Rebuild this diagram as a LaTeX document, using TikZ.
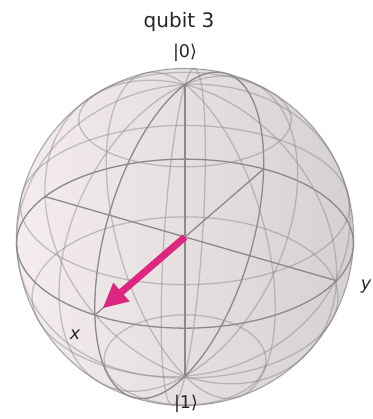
\documentclass[tikz,border=0pt]{standalone}
\usepackage{fontspec}
\setmainfont{DejaVu Sans}
\usetikzlibrary{arrows.meta}
\definecolor{wirec}{HTML}{808080}
\definecolor{framec}{HTML}{8A8A8A}
\definecolor{vecc}{HTML}{DC267F}
\definecolor{sphl}{HTML}{F5EDED}
\definecolor{sphr}{HTML}{D6D1D1}
\definecolor{txtc}{HTML}{262626}
\begin{document}
\begin{tikzpicture}[x=1pt,y=1pt,
  declare function={
    dep(\a,\b,\c)=0.75*\a+0.4330127*\b+0.5*\c;
    sc(\a,\b,\c)=168*11/(11-dep(\a,\b,\c));
    PX(\a,\b,\c)=185+sc(\a,\b,\c)*(-0.5*\a+0.8660254*\b);
    PY(\a,\b,\c)=182+sc(\a,\b,\c)*(-0.4330127*\a-0.25*\b+0.8660254*\c);
  },
  wire/.style={draw=wirec, draw opacity=0.42, line width=1.3pt},
  frame/.style={draw=framec, line width=1.3pt},
  rim/.style={draw=wirec, draw opacity=0.4, line width=1.5pt},
  lbl/.style={text=txtc, font=\fontsize{17.5}{20}\selectfont, inner sep=0pt},
  vec/.style={draw=vecc, line width=7pt, -{Triangle[length=25pt,width=23pt]}}
]
\useasboundingbox (0,0) rectangle (372,419);
\coordinate (O) at (185,182);
% sphere body
\fill[left color=sphl, right color=sphr] (O) circle (168.5);
% wireframe meridians
\foreach \u in {0,37.5,75,112.5,150,180,-142.5,-105,-67.5,-30}
  \draw[wire] plot[domain=0:180, samples=37, variable=\t, smooth]
    ({PX(-sin(\u)*sin(\t),cos(\u)*sin(\t),cos(\t))},{PY(-sin(\u)*sin(\t),cos(\u)*sin(\t),cos(\t))});
% wireframe latitudes
\foreach \v in {37.5,75,112.5,150}
  \draw[wire] plot[domain=-180:180, samples=73, variable=\t, smooth]
    ({PX(-sin(\t)*sin(\v),cos(\t)*sin(\v),cos(\v))},{PY(-sin(\t)*sin(\v),cos(\t)*sin(\v),cos(\v))});
% rim
\draw[rim] (O) circle (168.5);
% equator and xz great circle
\draw[frame] plot[domain=0:360, samples=73, variable=\t, smooth]
  ({PX(cos(\t),sin(\t),0)},{PY(cos(\t),sin(\t),0)});
\draw[frame] plot[domain=0:360, samples=73, variable=\t, smooth]
  ({PX(cos(\t),0,sin(\t))},{PY(cos(\t),0,sin(\t))});
% axes
\coordinate (Xp) at ({PX(1,0,0)},{PY(1,0,0)});
\coordinate (Xm) at ({PX(-1,0,0)},{PY(-1,0,0)});
\coordinate (Yp) at ({PX(0,1,0)},{PY(0,1,0)});
\coordinate (Ym) at ({PX(0,-1,0)},{PY(0,-1,0)});
\coordinate (Zp) at ({PX(0,0,1)},{PY(0,0,1)});
\coordinate (Zm) at ({PX(0,0,-1)},{PY(0,0,-1)});
\draw[frame] (Xm) -- (Xp);
\draw[frame] (Ym) -- (Yp);
\draw[frame] (Zm) -- (Zp);
% state vector
\coordinate (T) at ({PX(0.92,0,0)},{PY(0.92,0,0)});
\draw[vec] (O) -- (T);
% labels
\node[lbl, font=\fontsize{20}{24}\selectfont, anchor=base] (title) at (179,391) {qubit 3};
\node[lbl, anchor=base] (ket0) at (185,361) {|0⟩};
\node[lbl, anchor=base] (ket1) at (186,10) {|1⟩};
\node[lbl, anchor=base, font=\fontsize{17.5}{20}\selectfont\itshape] (xl) at (75,79) {x};
\node[lbl, anchor=base, font=\fontsize{17.5}{20}\selectfont\itshape] (yl) at (366,129) {y};
\end{tikzpicture}
\end{document}
